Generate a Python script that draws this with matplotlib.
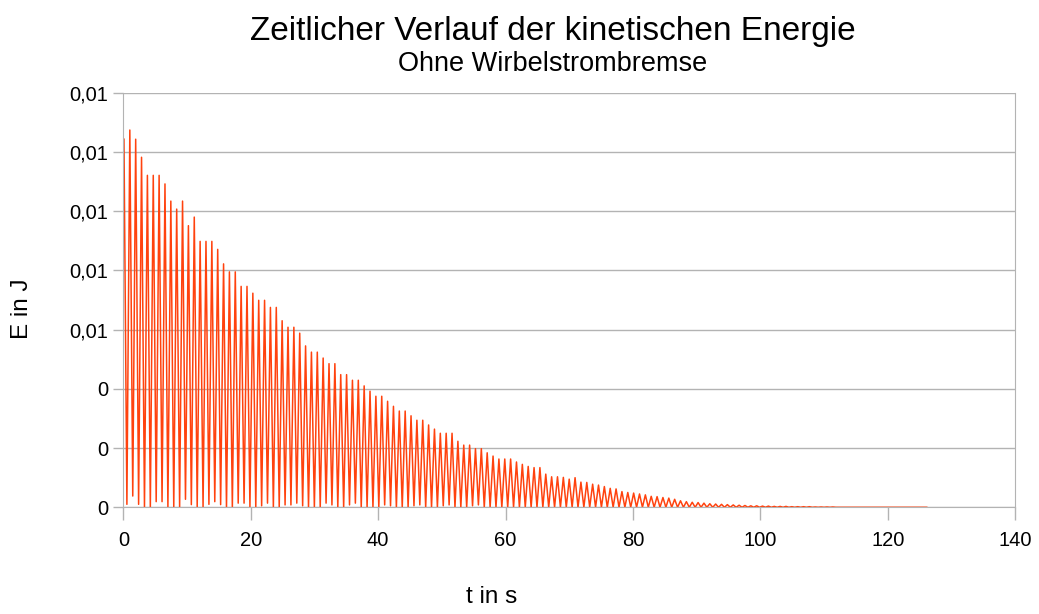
import matplotlib
matplotlib.use('Agg')
import matplotlib.pyplot as plt
from matplotlib.ticker import FuncFormatter, MultipleLocator
import numpy as np

plt.rcParams['font.family'] = ['Liberation Sans', 'DejaVu Sans']

# Energiemaxima je Halbschwingung (J)
E_max = [
    0.01243, 0.01274, 0.01243, 0.01182, 0.01121, 0.01121, 0.01121, 0.01092, 0.01034, 0.01007,
    0.01034, 0.00951, 0.00980, 0.00898, 0.00898, 0.00898, 0.00871, 0.00822, 0.00795, 0.00795,
    0.00746, 0.00746, 0.00723, 0.00699, 0.00699, 0.00675, 0.00675, 0.00630, 0.00608, 0.00608,
    0.00588, 0.00545, 0.00524, 0.00524, 0.00504, 0.00485, 0.00485, 0.00448, 0.00448, 0.00429,
    0.00429, 0.00410, 0.00392, 0.00375, 0.00375, 0.00358, 0.00341, 0.00325, 0.00325, 0.00309,
    0.00294, 0.00294, 0.00278, 0.00264, 0.00250, 0.00250, 0.00250, 0.00223, 0.00210, 0.00210,
    0.00198, 0.00198, 0.00184, 0.00173, 0.00163, 0.00163, 0.00163, 0.00153, 0.00145, 0.00138,
    0.00134, 0.00134, 0.00112, 0.00103, 0.00103, 0.00101, 0.00095, 0.00100, 0.00085, 0.00084,
    0.00078, 0.00075, 0.00070, 0.00064, 0.00062, 0.00053, 0.00050, 0.00048, 0.00045, 0.00042,
    0.00037, 0.00036, 0.00033, 0.00031, 0.00027, 0.00022, 0.00019, 0.00017, 0.00016, 0.00014,
    0.00012, 0.00011, 0.00010, 0.00009, 0.00008, 0.00007, 0.00006, 0.00005, 0.00005, 0.00004,
    0.00004, 0.00003, 0.00003, 0.00003, 0.00002, 0.00002, 0.00002, 0.00002, 0.00001, 0.00001,
    0.00001, 0.00001,
]

# Minima nach jedem Maximum (J), abgetastet knapp neben dem Nulldurchgang
E_min = [
    0.00010, 0.00038, 0.00010, 0, 0, 0.00019, 0.00019, 0, 0, 0,
    0.00027, 0.00009, 0, 0, 0.00010, 0.00019, 0.00009, 0, 0, 0.00014,
    0.00014, 0, 0, 0.00005, 0.00014, 0, 0, 0.00008, 0.00008, 0.00014,
    0.00005, 0, 0, 0, 0.00014, 0.00008, 0, 0, 0.00008, 0.00014,
    0, 0, 0, 0, 0.00008, 0.00005, 0, 0, 0, 0.00005,
    0.00008, 0, 0, 0, 0.00005, 0.00008, 0, 0, 0, 0.00005,
    0.00008, 0, 0, 0, 0, 0, 0, 0, 0, 0,
    0, 0, 0, 0, 0, 0, 0, 0, 0, 0,
    0, 0, 0, 0, 0, 0, 0, 0, 0, 0,
    0, 0, 0, 0, 0, 0, 0, 0, 0, 0,
    0, 0, 0, 0, 0, 0, 0, 0, 0, 0,
    0, 0, 0, 0, 0, 0, 0, 0, 0, 0,
    0, 0,
]

t_first = 0.1      # s, erstes Maximum
T_half = 0.9195    # s, Abstand zweier Maxima
t_end = 126.1      # s, Ende der Messung

# Maxima und Minima abwechselnd zu einer Zeitreihe zusammensetzen
n = len(E_max)
t_max = t_first + T_half * np.arange(n)
t_min = t_max + T_half / 2
t = np.empty(2 * n + 1)
E = np.empty(2 * n + 1)
t[0:2 * n:2] = t_max
t[1:2 * n:2] = t_min
E[0:2 * n:2] = E_max
E[1:2 * n:2] = E_min
t[-1] = t_end
E[-1] = 0.0

grey = '#b3b3b3'

fig = plt.figure(figsize=(10.39, 6.14), dpi=100)
ax = fig.add_axes([0.1187, 0.1738, 0.9772 - 0.1187, 0.849 - 0.1738])

ax.plot(t, E, color='#ff420e', linewidth=1.1)

ax.set_xlim(0, 140)
ax.set_ylim(0, 0.014)
ax.xaxis.set_major_locator(MultipleLocator(20))
ax.yaxis.set_major_locator(MultipleLocator(0.002))


def fmt(v, pos):
    r = round(v, 2)
    if r == 0:
        return '0'
    return f'{r:.2f}'.replace('.', ',')


ax.yaxis.set_major_formatter(FuncFormatter(fmt))
ax.grid(axis='y', color=grey, linewidth=1)
ax.set_axisbelow(True)
for s in ['left', 'right', 'bottom']:
    ax.spines[s].set_color(grey)
ax.spines['top'].set_visible(False)
ax.tick_params(axis='both', colors=grey, labelcolor='black', labelsize=14.5, width=1)
ax.tick_params(axis='y', length=7, pad=4)
ax.tick_params(axis='x', length=9, pad=8)

fig.text(0.532, 0.935, 'Zeitlicher Verlauf der kinetischen Energie', ha='center', fontsize=24)
fig.text(0.532, 0.885, 'Ohne Wirbelstrombremse', ha='center', fontsize=19.5)
fig.text(0.473, 0.018, 't in s', ha='center', fontsize=17.5)
fig.text(0.021, 0.497, 'E in J', rotation=90, va='center', ha='center', fontsize=17.5)

fig.savefig('out.png', dpi=100)
